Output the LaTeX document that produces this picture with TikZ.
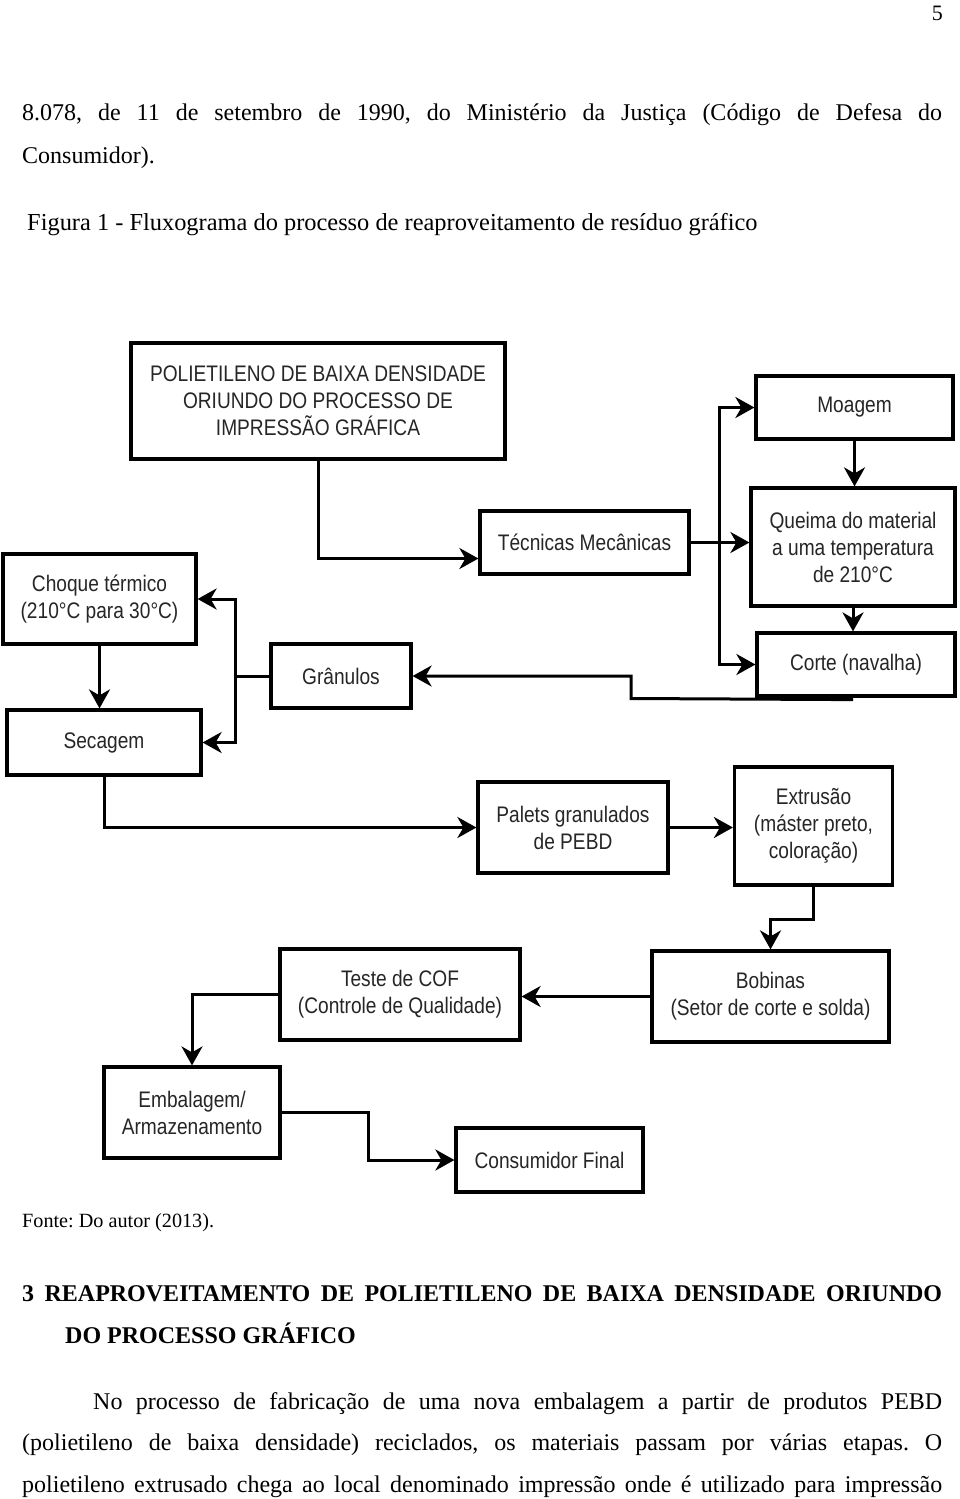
\documentclass[tikz,border=0pt]{standalone}
\usepackage{fontspec}
\setmainfont{Liberation Serif}
\newfontfamily\dfont[FakeStretch=0.85]{Liberation Sans}
\usetikzlibrary{arrows.meta,calc}
\frenchspacing
\begin{document}
\begin{tikzpicture}[x=1pt,y=-1pt,
  box/.style={draw=black, line width=3.2pt, align=center, inner sep=0pt,
    font=\dfont\fontsize{22.5}{27}\selectfont, text=black!85},
  conn/.style={line width=3pt},
  arr/.style={conn,-{Stealth[length=19pt,width=21pt,inset=6pt]}},
  body/.style={anchor=base west, inner sep=0pt, font=\fontsize{24}{29}\selectfont}]
\useasboundingbox[fill=white] (0,0) rectangle (960,1499);

% page text
\node[anchor=base east, inner sep=0pt, font=\fontsize{22}{26}\selectfont] (pg) at (943,20) {5};
\node[body] (l1) at (22,120) {\makebox[920pt][s]{8.078, de 11 de setembro de 1990, do Ministério da Justiça (Código de Defesa do}};
\node[body] (l2) at (22,163) {Consumidor).};
\node[body, font=\fontsize{24.4}{29}\selectfont] (cap) at (27,230) {Figura 1 - Fluxograma do processo de reaproveitamento de resíduo gráfico};
\node[body, font=\fontsize{20.2}{24}\selectfont] (fonte) at (22,1227) {Fonte: Do autor (2013).};
\node[body, font=\bfseries\fontsize{24}{29}\selectfont] (h1) at (22,1301) {\makebox[920pt][s]{3 REAPROVEITAMENTO DE POLIETILENO DE BAIXA DENSIDADE ORIUNDO}};
\node[body, font=\bfseries\fontsize{24}{29}\selectfont] (h2) at (65,1343) {DO PROCESSO GRÁFICO};
\node[body] (p1) at (93,1409) {\makebox[849pt][s]{No processo de fabricação de uma nova embalagem a partir de produtos PEBD}};
\node[body] (p2) at (22,1450) {\makebox[920pt][s]{(polietileno de baixa densidade) reciclados, os materiais passam por várias etapas. O}};
\node[body] (p3) at (22,1492) {\makebox[920pt][s]{polietileno extrusado chega ao local denominado impressão onde é utilizado para impressão}};

% boxes
\node[box, minimum width=374pt, minimum height=116pt] (poli) at (318,401) {POLIETILENO DE BAIXA DENSIDADE\\ORIUNDO DO PROCESSO DE\\IMPRESSÃO GRÁFICA};
\node[box, minimum width=197pt, minimum height=63pt] (moagem) at (854.5,407.5) {Moagem};
\node[box, minimum width=209pt, minimum height=63pt] (tec) at (584.5,542.5) {Técnicas Mecânicas};
\node[box, minimum width=204pt, minimum height=118pt] (queima) at (853,547) {Queima do material\\a uma temperatura\\de 210°C};
\node[box, minimum width=198pt, minimum height=63pt] (corte) at (856,664.5) {Corte (navalha)};
\node[box, minimum width=193pt, minimum height=90pt] (choque) at (99.5,599) {Choque térmico\\(210°C para 30°C)};
\node[box, minimum width=140pt, minimum height=64pt] (gran) at (341,676) {Grânulos};
\node[box, minimum width=194pt, minimum height=65pt] (sec) at (104,742.5) {Secagem};
\node[box, minimum width=190pt, minimum height=91pt] (palets) at (573,827.5) {Palets granulados\\de PEBD};
\node[box, minimum width=158pt, minimum height=118pt] (extr) at (813.5,826) {Extrusão\\(máster preto,\\coloração)};
\node[box, minimum width=240pt, minimum height=91pt] (teste) at (400,994.5) {Teste de COF\\(Controle de Qualidade)};
\node[box, minimum width=237pt, minimum height=91pt] (bob) at (770.5,996.5) {Bobinas\\(Setor de corte e solda)};
\node[box, minimum width=176pt, minimum height=91pt] (emb) at (192,1112.5) {Embalagem/\\Armazenamento};
\node[box, minimum width=187pt, minimum height=64pt] (cons) at (549.5,1160) {Consumidor Final};

% connectors
\coordinate (tx) at (719,0);
\coordinate (gx) at (235,0);
\draw[arr] (poli.south) |- ($(tec.west)+(0,16)$);
\draw[arr] (tec.east) -| (moagem.west -| tx) -- (moagem.west);
\draw[arr] (tec.east -| tx) -- (tec.east -| queima.west);
\draw[arr] (tec.east -| tx) |- (corte.west);
\draw[arr] (moagem.south) -- (moagem.south |- queima.north);
\draw[arr] (queima.south) -- (queima.south |- corte.north);
\draw[arr] ($(corte.south)+(-3,2)$) -- (631,698.5) |- (gran.east);
\draw[arr] (gran.west) -| (choque.east -| gx) -- (choque.east);
\draw[arr] (gran.west -| gx) |- (sec.east);
\draw[arr] (choque.south) -- (choque.south |- sec.north);
\draw[arr] (sec.south) |- (palets.west);
\draw[arr] (palets.east) -- (palets.east -| extr.west);
\draw[arr] (extr.south) -- ++(0,33) -| (bob.north);
\draw[arr] (bob.west) -- (bob.west -| teste.east);
\draw[arr] (teste.west) -| (emb.north);
\draw[arr] (emb.east) -- ++(87,0) |- (cons.west);
\end{tikzpicture}
\end{document}
